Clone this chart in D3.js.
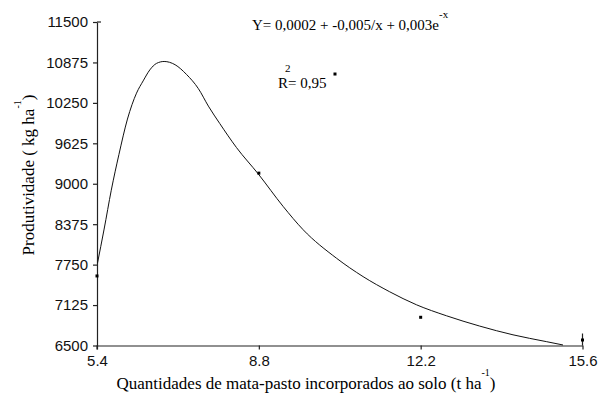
<!DOCTYPE html>
<html>
<head>
<meta charset="utf-8">
<script src="https://cdn.jsdelivr.net/npm/d3@7"></script>
<style>
  body { margin: 0; background: #fff; }
  svg { display: block; }
</style>
</head>
<body>
<div id="chart"></div>
<script>
// Observed points
const obsX = [5.4, 8.8, 10.4, 12.2, 15.6];
const obsY = [7575, 9164, 10696, 6936, 6585];

// Fitted curve
const fitX = [5.41, 5.55, 5.70, 5.86, 6.04, 6.23, 6.37, 6.51, 6.65, 6.81, 7.04, 7.28, 7.53, 7.74, 7.98, 8.33, 8.79, 9.31, 9.73, 10.43, 10.99, 11.55, 12.11, 12.74, 13.44, 14.14, 14.84, 15.19];
const fitY = [7772, 8300, 8900, 9450, 10000, 10400, 10590, 10760, 10860, 10890, 10840, 10690, 10470, 10200, 9930, 9560, 9150, 8650, 8290, 7850, 7565, 7330, 7130, 6960, 6800, 6665, 6560, 6508];

const xTicks = [5.4, 8.8, 12.2, 15.6];
const yTicks = [6500, 7125, 7750, 8375, 9000, 9625, 10250, 10875, 11500];

const width = 598, height = 398;
const margin = { top: 22, right: 15.5, bottom: 52.5, left: 97 };

const svg = d3.select('#chart')
    .append('svg')
    .attr('width', width)
    .attr('height', height);

const x = d3.scaleLinear()
    .domain([5.4, 15.6])
    .range([margin.left, width - margin.right]);

const y = d3.scaleLinear()
    .domain([6500, 11500])
    .range([height - margin.bottom, margin.top]);

const serif = '"Liberation Serif", "Times New Roman", serif';
const sans = '"Liberation Sans", Arial, sans-serif';

// x axis
const xAxis = svg.append('g')
    .attr('transform', `translate(0,${y(6500)})`)
    .call(d3.axisBottom(x).tickValues(xTicks).tickFormat(d3.format('.1f')).tickSize(4).tickPadding(6).tickSizeOuter(0));

// y axis
const yAxis = svg.append('g')
    .attr('transform', `translate(${x(5.4)},0)`)
    .call(d3.axisLeft(y).tickValues(yTicks).tickFormat(d3.format('d')).tickSize(4).tickPadding(5).tickSizeOuter(0));

[xAxis, yAxis].forEach(g => {
    g.select('.domain').attr('stroke', '#222').attr('stroke-width', 1.2);
    g.selectAll('.tick line').attr('stroke', '#222').attr('stroke-width', 1.2);
    g.selectAll('.tick text')
        .attr('fill', '#111')
        .style('font-family', sans)
        .style('font-size', '15px');
});

// extra bits at the axis ends
svg.append('line')
    .attr('x1', x(5.4)).attr('x2', x(5.4))
    .attr('y1', y(6500)).attr('y2', y(6500) + 4)
    .attr('stroke', '#222').attr('stroke-width', 1.2);
svg.append('line')
    .attr('x1', x(15.6)).attr('x2', x(15.6))
    .attr('y1', y(6500) - 12).attr('y2', y(6500))
    .attr('stroke', '#222').attr('stroke-width', 1.2);
svg.append('line')
    .attr('x1', x(5.4)).attr('x2', x(5.4) + 4)
    .attr('y1', y(11500)).attr('y2', y(11500))
    .attr('stroke', '#222').attr('stroke-width', 1.2);

// fitted curve
const fit = fitX.map((d, i) => [d, fitY[i]]);
svg.append('path')
    .datum(fit)
    .attr('fill', 'none')
    .attr('stroke', '#111')
    .attr('stroke-width', 1)
    .attr('d', d3.line()
        .x(d => x(d[0]))
        .y(d => y(d[1]))
        .curve(d3.curveMonotoneX));

// observed points
svg.append('g')
    .selectAll('rect')
    .data(obsX.map((d, i) => [d, obsY[i]]))
    .enter().append('rect')
    .attr('x', d => x(d[0]) - 1.5)
    .attr('y', d => y(d[1]) - 1.5)
    .attr('width', 3)
    .attr('height', 3)
    .attr('fill', '#000');

// equation
const eq = svg.append('text')
    .attr('x', 252)
    .attr('y', 30)
    .attr('fill', '#000')
    .style('font-family', serif)
    .style('font-size', '15px');
eq.append('tspan').text('Y= 0,0002 + -0,005/x +  0,003e');
eq.append('tspan').attr('dy', -12).style('font-size', '11px').text('-x');

svg.append('text')
    .attr('x', 278)
    .attr('y', 88)
    .attr('fill', '#000')
    .style('font-family', serif)
    .style('font-size', '15px')
    .text('R= 0,95');
svg.append('text')
    .attr('x', 285)
    .attr('y', 72)
    .attr('fill', '#000')
    .style('font-family', serif)
    .style('font-size', '11px')
    .text('2');

// x axis title
const xt = svg.append('text')
    .attr('x', 306)
    .attr('y', 389)
    .attr('text-anchor', 'middle')
    .attr('fill', '#000')
    .style('font-family', serif)
    .style('font-size', '17px');
xt.append('tspan').text('Quantidades de mata-pasto incorporados ao solo (t ha');
xt.append('tspan').attr('dy', -13).attr('dx', 0).style('font-size', '10px').text('-1');
xt.append('tspan').attr('dy', 13).text(')');

// y axis title
const yt = svg.append('text')
    .attr('transform', `translate(34,${175}) rotate(-90)`)
    .attr('text-anchor', 'middle')
    .attr('fill', '#000')
    .style('font-family', serif)
    .style('font-size', '17px');
yt.append('tspan').text('Produtividade ( kg ha');
yt.append('tspan').attr('dy', -13).attr('dx', 0).style('font-size', '10px').text('-1');
yt.append('tspan').attr('dy', 13).text(')');
</script>
</body>
</html>
